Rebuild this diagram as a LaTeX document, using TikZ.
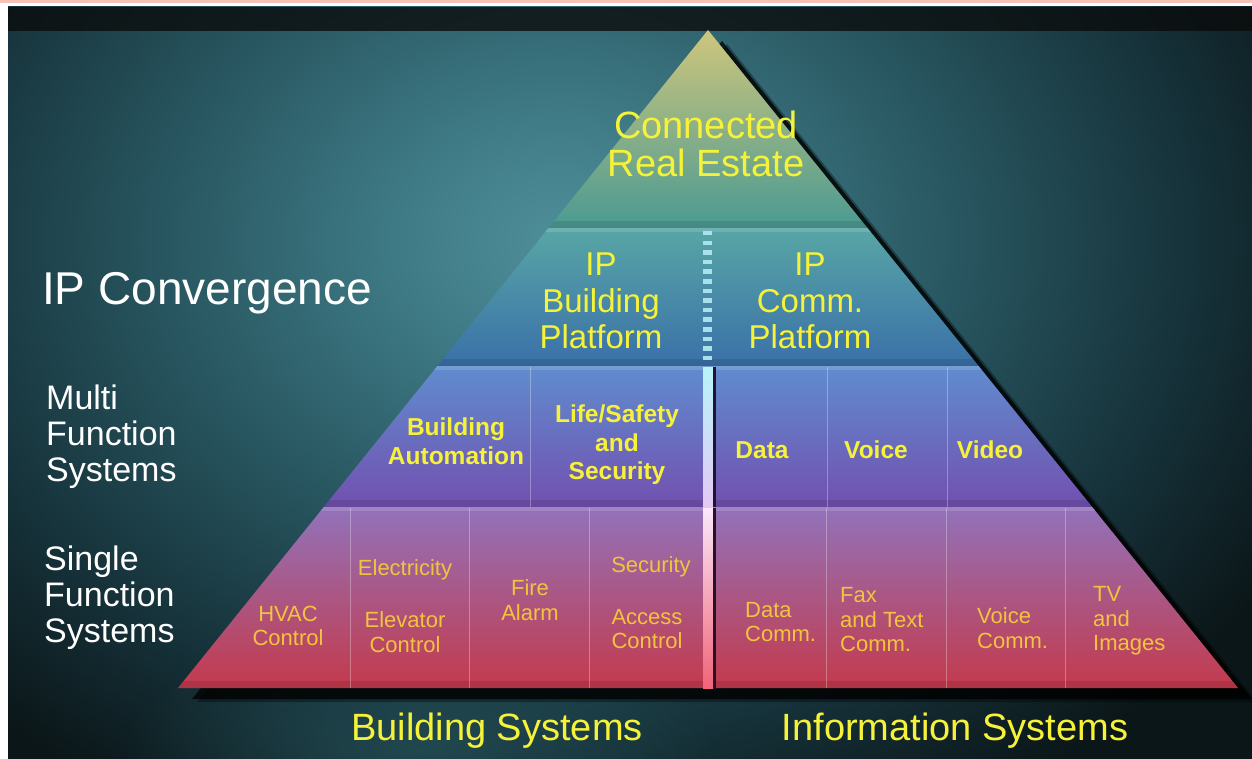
\documentclass[tikz,border=0pt]{standalone}
\usepackage{fontspec}
\usetikzlibrary{fadings}
\setmainfont{Liberation Sans}
\tikzfading[name=softglow, inner color=transparent!0, outer color=transparent!100]
\definecolor{bgdark}{HTML}{0B1618}
\definecolor{glowA}{HTML}{4F8F9A}
\definecolor{glowB}{HTML}{3E7A85}
\definecolor{glowC}{HTML}{285660}
\definecolor{glowD}{HTML}{16323A}
\definecolor{ytext}{HTML}{F6F23A}
\definecolor{gtext}{HTML}{F2C43E}
\definecolor{topband}{HTML}{0A0C0C}
\definecolor{pinkline}{HTML}{F4C2B6}
\definecolor{t1a}{HTML}{CEC67C}
\definecolor{t1b}{HTML}{96AC86}
\definecolor{t1c}{HTML}{4A9A92}
\definecolor{t2a}{HTML}{58A6A6}
\definecolor{t2b}{HTML}{468EA4}
\definecolor{t2c}{HTML}{3A70A8}
\definecolor{t3a}{HTML}{608CCE}
\definecolor{t3b}{HTML}{5A6CBE}
\definecolor{t3c}{HTML}{7250B0}
\definecolor{t4a}{HTML}{9272BA}
\definecolor{t4b}{HTML}{8C4E9E}
\definecolor{t4c}{HTML}{C43A4C}
\definecolor{dotcol}{HTML}{A8E0EC}
\definecolor{barAa}{HTML}{B8F4FA}
\definecolor{barAb}{HTML}{E4C8F4}
\definecolor{barBa}{HTML}{FAE8FA}
\definecolor{barBb}{HTML}{F088E8}
\definecolor{barBc}{HTML}{F06478}
\definecolor{darkA}{HTML}{1E1432}
\definecolor{darkB}{HTML}{281028}
\definecolor{lowglow}{HTML}{2A5A62}
\pgfdeclareradialshading{glow}{\pgfpoint{0bp}{0bp}}{color(0bp)=(glowA); color(5bp)=(glowB); color(12bp)=(glowC); color(19bp)=(glowD); color(25bp)=(bgdark); color(50bp)=(bgdark)}
\tikzset{
  big/.style={text=ytext, align=center, inner sep=0pt, font=\fontsize{38}{38}\selectfont},
  plat/.style={text=ytext, align=center, inner sep=0pt, font=\fontsize{33}{36.5}\selectfont},
  side/.style={text=white, align=left, inner sep=0pt, anchor=west, font=\fontsize{34}{36}\selectfont},
  mid/.style={text=ytext, align=center, inner sep=0pt, font=\fontsize{24.5}{28.5}\selectfont\bfseries},
  low/.style={text=gtext, align=center, inner sep=0pt, font=\fontsize{22}{24.5}\selectfont},
  lowl/.style={low, align=left, anchor=west},
  cellline/.style={draw=white, draw opacity=0.3, line width=1pt},
}
\begin{document}
\begin{tikzpicture}[x=1pt,y=-1pt]
\useasboundingbox (0,0) rectangle (1252,759);
% frame
\fill[white] (0,0) rectangle (1252,759);
\fill[pinkline] (0,0) rectangle (1252,3);
% background
\begin{scope}
\clip (8,7) rectangle (1252,759);
\fill[bgdark] (8,7) rectangle (1252,759);
\shade[shading=glow] (560,240) ellipse [x radius=830, y radius=650];
\fill[lowglow, path fading=softglow, opacity=0.6] (420,750) ellipse [x radius=300, y radius=120];
\fill[topband, opacity=0.8] (8,7) rectangle (1252,31);
\end{scope}
% pyramid coordinates
\coordinate (apex) at (708,30);
\coordinate (l1) at (548.5,228); \coordinate (r1) at (867.5,228);
\coordinate (l2) at (437.4,366); \coordinate (r2) at (978.6,366);
\coordinate (l3) at (323.8,507); \coordinate (r3) at (1092.2,507);
\coordinate (l4) at (178,688);   \coordinate (r4) at (1238,688);
% shadow
\fill[black, opacity=0.35] ([shift={(19,14)}]apex) -- ([shift={(19,14)}]r4) -- ([shift={(19,14)}]l4) -- cycle;
\fill[black, opacity=0.75] ([shift={(14,11)}]apex) -- ([shift={(14,11)}]r4) -- ([shift={(14,11)}]l4) -- cycle;
% tiers
\shade[top color=t1a, middle color=t1b, bottom color=t1c] (apex) -- (r1) -- (l1) -- cycle;
\shade[top color=t2a, middle color=t2b, bottom color=t2c] (l1) -- (r1) -- (r2) -- (l2) -- cycle;
\shade[top color=t3a, middle color=t3b, bottom color=t3c] (l2) -- (r2) -- (r3) -- (l3) -- cycle;
\shade[top color=t4a, middle color=t4b, bottom color=t4c] (l3) -- (r3) -- (r4) -- (l4) -- cycle;
% tier top highlights and bottom darkening
\begin{scope}
\clip (apex) -- (r4) -- (l4) -- cycle;
\foreach \yt in {228, 366, 507}{
  \fill[white, opacity=0.14] (150,\yt) rectangle (1260,\yt+4);
}
\foreach \yb in {228, 366, 507, 688}{
  \fill[black, opacity=0.10] (150,\yb-7) rectangle (1260,\yb);
}
\end{scope}
% cell lines, middle tier
\foreach \x in {530, 827, 947}{
  \draw[cellline] (\x,367) -- (\x,507);
}
% cell lines, bottom tier
\foreach \x in {350, 469, 589, 826, 946, 1065}{
  \draw[cellline] (\x,508) -- (\x,688);
}
% central divider, IP tier (dotted)
\foreach \i in {0,...,13}{
  \fill[dotcol] (703,231+\i*9.6) rectangle (712,235.5+\i*9.6);
}
% central divider, middle tier
\shade[top color=barAa, bottom color=barAb] (703,367) rectangle (713,507);
\fill[darkA] (713,367) rectangle (716,507);
% central divider, bottom tier
\shade[top color=barBa, middle color=barBb, bottom color=barBc] (703,508) rectangle (713,688);
\fill[darkB] (713,508) rectangle (716,688);
% texts
\node[big] (cre) at (706,144) {Connected\\Real Estate};
\node[plat] (ipb) at (601,301) {IP\\Building\\Platform};
\node[plat] (ipc) at (810,301) {IP\\Comm.\\Platform};
\node[text=white, inner sep=0pt, anchor=west, font=\fontsize{46}{46}\selectfont] (ipconv) at (42,293) {IP Convergence};
\node[side] (multi) at (46,437) {Multi\\Function\\Systems};
\node[side] (single) at (44,598) {Single\\Function\\Systems};
\node[mid] (ba) at (456,441) {Building\\Automation};
\node[mid] (ls) at (617,445) {Life/Safety\\and\\Security};
\node[mid] (data) at (762,450) {Data};
\node[mid] (voice) at (876,450) {Voice};
\node[mid] (video) at (990,450) {Video};
\node[low] (hvac) at (288,626) {HVAC\\Control};
\node[low] (elec) at (405,570) {Electricity};
\node[low] (elev) at (405,632) {Elevator\\Control};
\node[low] (fire) at (530,600) {Fire\\Alarm};
\node[low] (sec) at (651,567) {Security};
\node[low] (acc) at (647,629) {Access\\Control};
\node[lowl] (dcomm) at (745,622) {Data\\Comm.};
\node[lowl] (fax) at (840,620) {Fax\\and Text\\Comm.};
\node[lowl] (vcomm) at (977,628) {Voice\\Comm.};
\node[lowl] (tv) at (1093,621) {TV\\and\\Images};
\node[text=ytext, inner sep=0pt, font=\fontsize{38}{38}\selectfont] (bs) at (497,731) {Building Systems};
\node[text=ytext, inner sep=0pt, font=\fontsize{38}{38}\selectfont] (is) at (955,731) {Information Systems};
\end{tikzpicture}
\end{document}
